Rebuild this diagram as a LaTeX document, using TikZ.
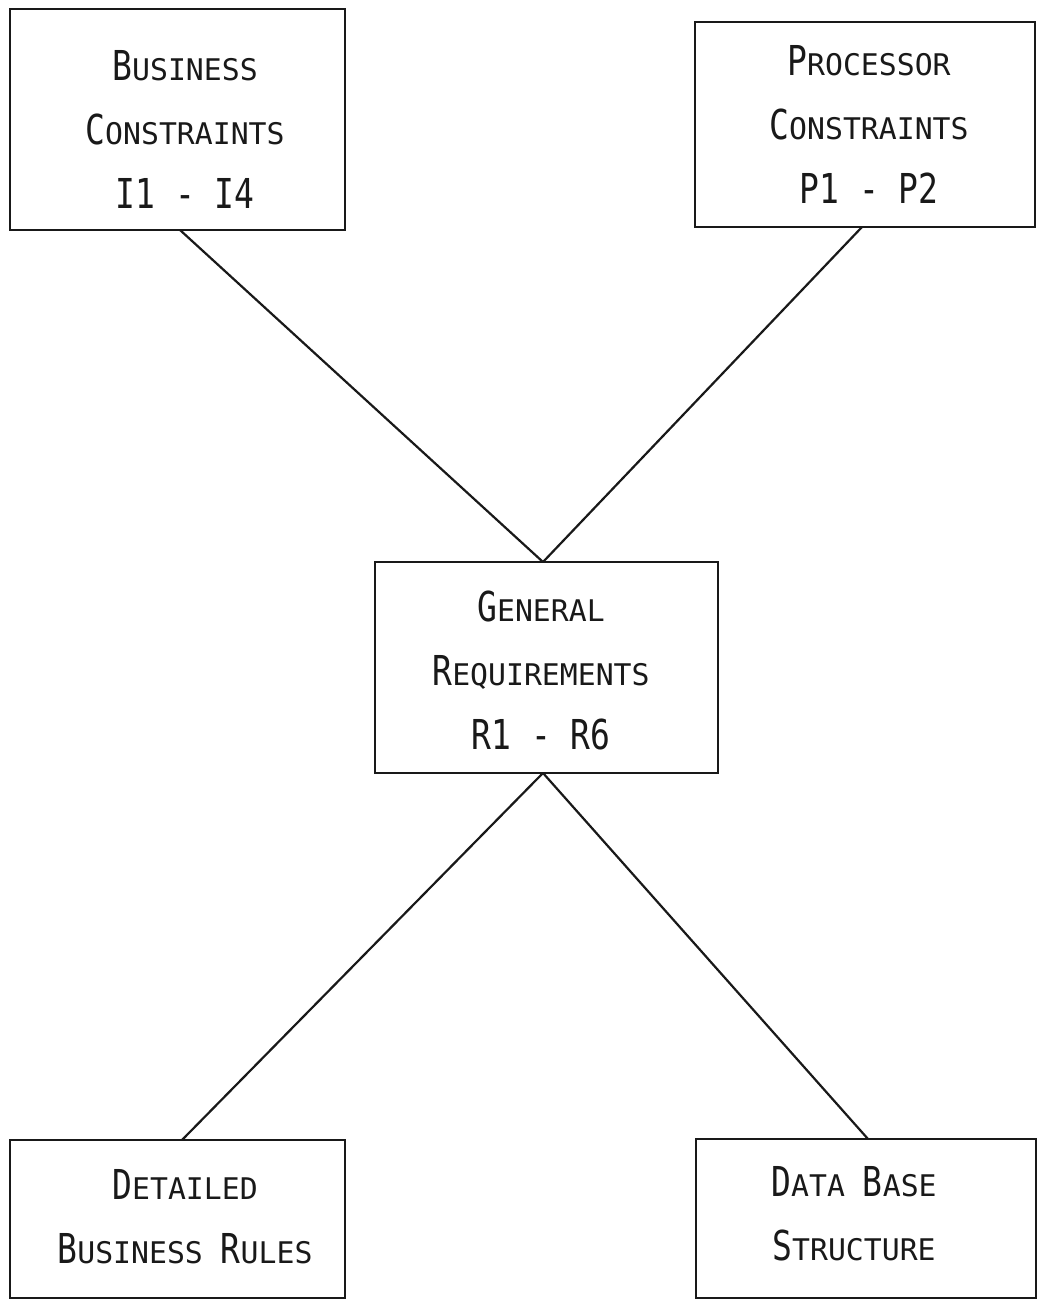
\documentclass[tikz,border=0pt]{standalone}
\usepackage{fontspec}
\newfontfamily\typefont{DejaVu Sans Mono}
\newfontfamily\tallfont[FakeStretch=0.8]{DejaVu Sans Mono}
% typed small capitals: first letter tall and narrow, the rest smaller
\newcommand\capword[2]{{\tallfont\fontsize{20.6}{32}\selectfont #1}{\typefont\fontsize{14.9}{32}\selectfont #2}}
\newcommand\bigtype[1]{{\tallfont\fontsize{20.6}{32}\selectfont #1}}
\begin{document}
\begin{tikzpicture}[x=0.5pt,y=-0.5pt,
  box/.style={draw=black!90, line width=1.3pt, inner sep=0pt, outer sep=0pt, fill=none},
  label text/.style={font=\typefont\fontsize{20.6}{32}\selectfont, align=center, inner sep=0pt, text=black!90},
  link/.style={draw=black!90, line width=1.1pt}]
  \useasboundingbox[fill=white] (0,0) rectangle (1037,1300);

  % boxes
  \node[box, minimum width=167.5pt, minimum height=110.5pt] (bc) at (177.5,119.5) {};
  \node[box, minimum width=170pt,   minimum height=102.5pt] (pc) at (865,124.5) {};
  \node[box, minimum width=171.5pt, minimum height=105.5pt] (gr) at (546.5,667.5) {};
  \node[box, minimum width=167.5pt, minimum height=79pt]    (dr) at (177.5,1219) {};
  \node[box, minimum width=170pt,   minimum height=79.5pt]  (db) at (866,1218.5) {};

  % box captions
  \node[label text] (bct) at (185,129)
    {\capword{B}{USINESS}\\ \capword{C}{ONSTRAINTS}\\ \bigtype{I1 - I4}};
  \node[label text] (pct) at (869,124)
    {\capword{P}{ROCESSOR}\\ \capword{C}{ONSTRAINTS}\\ \bigtype{P1 - P2}};
  \node[label text] (grt) at (541,670.5)
    {\capword{G}{ENERAL}\\ \capword{R}{EQUIREMENTS}\\ \bigtype{R1 - R6}};
  \node[label text] (drt) at (185,1216.5)
    {\capword{D}{ETAILED}\\ \capword{B}{USINESS}\typefont\fontsize{14.9}{32}\selectfont{} \capword{R}{ULES}};
  \node[label text] (dbt) at (854,1214)
    {\capword{D}{ATA}\typefont\fontsize{14.9}{32}\selectfont{} \capword{B}{ASE}\\ \capword{S}{TRUCTURE}};

  % connectors
  \draw[link] ([xshift=1.25pt]bc.south) -- ([xshift=-1.75pt]gr.north);
  \draw[link] ([xshift=-1.5pt]pc.south) -- ([xshift=-1.75pt]gr.north);
  \draw[link] ([xshift=-1.75pt]gr.south) -- ([xshift=2.25pt]dr.north);
  \draw[link] ([xshift=-1.75pt]gr.south) -- ([xshift=1pt]db.north);
\end{tikzpicture}
\end{document}
